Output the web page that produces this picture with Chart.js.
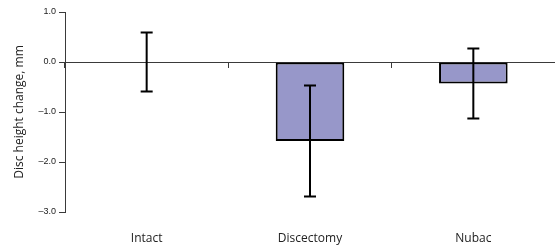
<!DOCTYPE html>
<html lang="en">
  <head>
    <meta charset="UTF-8" />
    <title>Disc height change</title>
    <style>
      html, body { margin: 0; padding: 0; background: #fff; }
      #wrap { width: 555px; height: 249px; }
    </style>
  </head>
  <body>
    <div id="wrap"><canvas id="graphic"></canvas></div>
    <script src="https://cdn.jsdelivr.net/npm/chart.js"></script>
    <script>
      // data
      const categories = ["Intact", "Discectomy", "Nubac"];
      const meanChange = [0, -1.58, -0.43];
      const errSize = [0.59, 1.11, 0.70];
      const yTicks = [1, 0, -1, -2, -3];

      const axisColor = "#3a3a3a";

      // error bars, drawn with the chart's own scales
      const errorBars = {
        id: "errorBars",
        afterDatasetsDraw(chart) {
          const ctx = chart.ctx;
          const x = chart.scales.x;
          const y = chart.scales.y;
          ctx.save();
          ctx.strokeStyle = "#000";
          ctx.lineWidth = 2;
          categories.forEach((c, i) => {
            const px = x.getPixelForValue(i);
            const top = y.getPixelForValue(meanChange[i] + errSize[i]);
            const bot = y.getPixelForValue(meanChange[i] - errSize[i]);
            ctx.beginPath();
            ctx.moveTo(px, top);
            ctx.lineTo(px, bot);
            ctx.moveTo(px - 6, top);
            ctx.lineTo(px + 6, top);
            ctx.moveTo(px - 6, bot);
            ctx.lineTo(px + 6, bot);
            ctx.stroke();
          });
          ctx.restore();
        },
      };

      const lienzo = document.getElementById("graphic");
      new Chart(lienzo, {
        type: "bar",
        data: {
          labels: categories,
          datasets: [
            {
              data: meanChange,
              backgroundColor: "#9797c9",
              borderColor: "#000",
              borderWidth: 2,
              borderSkipped: false,
              barPercentage: 0.42,
              categoryPercentage: 1,
            },
          ],
        },
        options: {
          responsive: true,
          maintainAspectRatio: false,
          animation: false,
          layout: { padding: { top: 12, right: 0, bottom: 0, left: 0 } },
          plugins: {
            legend: { display: false },
            tooltip: { enabled: false },
          },
          scales: {
            x: {
              position: "bottom",
              border: { display: false },
              grid: { display: false, drawTicks: false },
              ticks: {
                padding: 19,
                color: "#222",
                font: { family: "Open Sans", size: 12 },
              },
              afterFit: (s) => { s.height = 37; },
            },
            xZero: {
              type: "category",
              labels: categories,
              position: { y: 0 },
              offset: true,
              border: { display: true, color: axisColor, width: 1 },
              grid: {
                offset: true,
                drawOnChartArea: false,
                drawTicks: true,
                tickLength: 5,
                color: axisColor,
              },
              ticks: { display: false },
            },
            y: {
              min: -3,
              max: 1,
              afterBuildTicks: (s) => { s.ticks = yTicks.map((v) => ({ value: v })); },
              afterFit: (s) => { s.width = 65; },
              border: { display: true, color: axisColor, width: 1 },
              grid: {
                drawOnChartArea: false,
                drawTicks: true,
                tickLength: 6,
                color: axisColor,
              },
              ticks: {
                padding: 3,
                color: "#222",
                font: { family: "Liberation Sans", size: 9 },
                callback: (v) => (v < 0 ? "\u2013" + Math.abs(v).toFixed(1) : v.toFixed(1)),
              },
              title: {
                display: true,
                text: "Disc height change, mm",
                color: "#222",
                font: { family: "Open Sans", size: 12 },
                padding: { top: 12, bottom: 0 },
              },
            },
          },
        },
        plugins: [errorBars],
      });
    </script>
  </body>
</html>
